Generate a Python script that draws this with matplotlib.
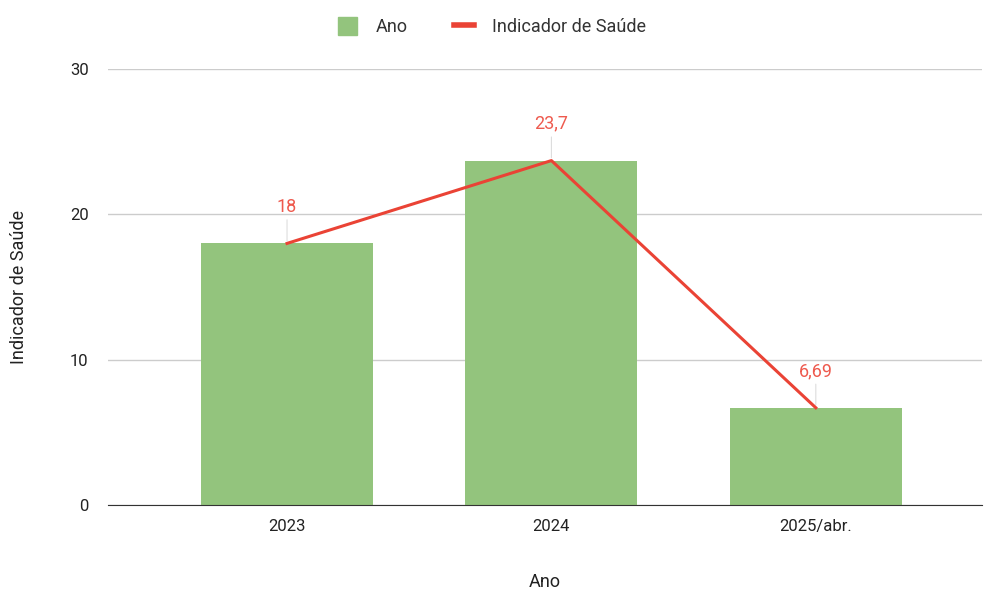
import matplotlib.pyplot as plt
from matplotlib.lines import Line2D
from matplotlib.patches import Patch

plt.rcParams['font.family'] = ['Roboto', 'DejaVu Sans']

anos = ["2023", "2024", "2025/abr."]
valores = [18, 23.7, 6.69]
rotulos = ["18", "23,7", "6,69"]

verde = "#93c47d"
vermelho = "#ea4335"

fig = plt.figure(figsize=(9.84, 5.92), dpi=100)
ax = fig.add_axes([0.1098, 0.147, 0.888, 0.7364])

x = list(range(len(anos)))
ax.bar(x, valores, width=0.65, color=verde, zorder=2)
ax.plot(x, valores, color=vermelho, linewidth=2.2, zorder=3)

for xi, v, r in zip(x, valores, rotulos):
    ax.annotate("", xy=(xi, v), xytext=(0, 19), textcoords="offset points",
                arrowprops=dict(arrowstyle="-", color="#dddddd", lw=0.8), zorder=1)
    ax.annotate(r, xy=(xi, v), xytext=(0, 20), textcoords="offset points",
                ha="center", va="bottom", color="#ee5a4e", fontsize=13)

ax.set_xlim(-0.677, 2.628)
ax.set_ylim(0, 30)
ax.set_yticks([0, 10, 20, 30])
ax.set_xticks(x)
ax.set_xticklabels(anos)
ax.grid(axis="y", color="#cccccc", linewidth=1, zorder=0)
for s in ["top", "right", "left"]:
    ax.spines[s].set_visible(False)
ax.spines["bottom"].set_color("#333333")
ax.spines["bottom"].set_zorder(4)
ax.tick_params(axis="both", length=0, labelsize=12, colors="#222222", pad=10)
ax.tick_params(axis="y", pad=14)

ax.set_xlabel("Ano", fontsize=13, color="#222222", labelpad=28)
ax.set_ylabel("Indicador de Saúde", fontsize=13, color="#222222", labelpad=30)

handles = [Patch(color=verde), Line2D([0], [0], color=vermelho, linewidth=4)]
fig.legend(handles, ["Ano", "Indicador de Saúde"], loc="upper center",
           bbox_to_anchor=(0.5, 0.998), ncol=2, frameon=False, fontsize=13,
           handlelength=1.1, handleheight=1.1, handletextpad=1.0,
           columnspacing=2.6, labelcolor="#333333")

fig.savefig("out.png", dpi=100)
